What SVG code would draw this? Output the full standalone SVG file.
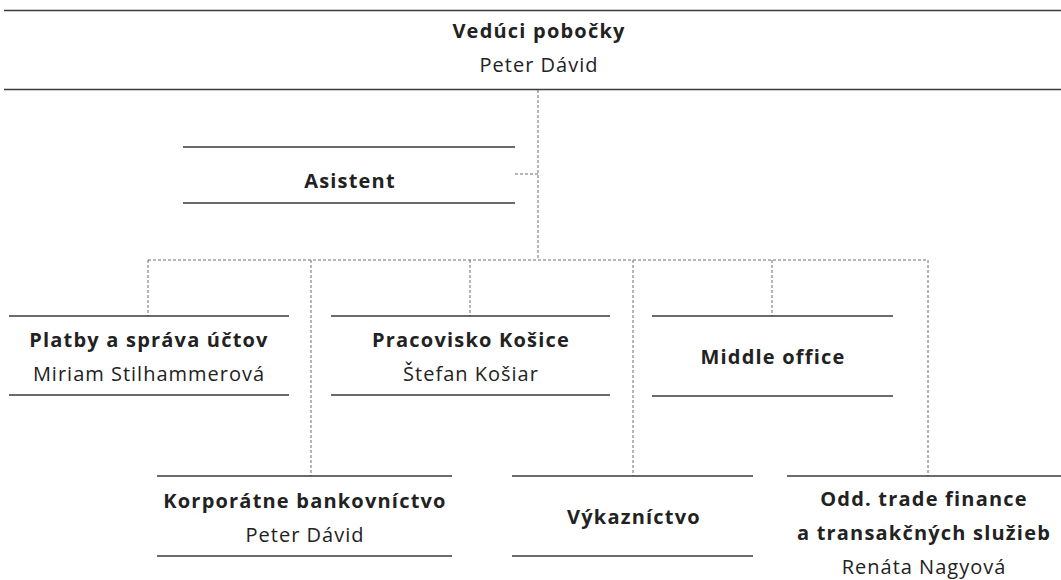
<svg xmlns="http://www.w3.org/2000/svg" width="1061" height="580" viewBox="0 0 1061 580">
<style>
.bg{fill:#ffffff}
.rule{stroke:#3a3a3a;stroke-width:1.5;fill:none}
.conn{stroke:#6e6e6e;stroke-width:1;stroke-dasharray:3 2;fill:none}
text{font-family:"Open Sans","Noto Sans","Liberation Sans",sans-serif;font-size:20px;fill:#222222;text-anchor:middle;letter-spacing:1px}
.b{font-weight:bold;letter-spacing:1.2px}
</style>
<rect class="bg" x="0" y="0" width="1061" height="580"/>
<g id="connectors">
<path class="conn" d="M538,90 V260"/>
<path class="conn" d="M515,174 H538"/>
<path class="conn" d="M148,260 H928"/>
<path class="conn" d="M148,260 V316"/>
<path class="conn" d="M311,260 V476"/>
<path class="conn" d="M470,260 V316"/>
<path class="conn" d="M633,260 V476"/>
<path class="conn" d="M772,260 V316"/>
<path class="conn" d="M928,260 V476"/>
</g>
<g id="veduci">
<line class="rule" x1="4" y1="10.5" x2="1061" y2="10.5"/>
<line class="rule" x1="4" y1="89.5" x2="1061" y2="89.5"/>
<text class="b" x="539" y="38">Vedúci pobočky</text>
<text x="539" y="72">Peter Dávid</text>
</g>
<g id="asistent">
<line class="rule" x1="183" y1="147" x2="515" y2="147"/>
<line class="rule" x1="183" y1="203" x2="515" y2="203"/>
<text class="b" x="350" y="188">Asistent</text>
</g>
<g id="platby">
<line class="rule" x1="9" y1="316" x2="289" y2="316"/>
<line class="rule" x1="9" y1="395" x2="289" y2="395"/>
<text class="b" x="149" y="347">Platby a správa účtov</text>
<text x="149" y="381">Miriam Stilhammerová</text>
</g>
<g id="pracovisko">
<line class="rule" x1="331" y1="316" x2="610" y2="316"/>
<line class="rule" x1="331" y1="395" x2="610" y2="395"/>
<text class="b" x="471" y="347">Pracovisko Košice</text>
<text x="471" y="381">Štefan Košiar</text>
</g>
<g id="middle">
<line class="rule" x1="652" y1="316" x2="893" y2="316"/>
<line class="rule" x1="652" y1="396" x2="893" y2="396"/>
<text class="b" x="773" y="364">Middle office</text>
</g>
<g id="korporatne">
<line class="rule" x1="157" y1="476" x2="452" y2="476"/>
<line class="rule" x1="157" y1="556" x2="452" y2="556"/>
<text class="b" x="305" y="508">Korporátne bankovníctvo</text>
<text x="305" y="542">Peter Dávid</text>
</g>
<g id="vykaznictvo">
<line class="rule" x1="512" y1="476" x2="753" y2="476"/>
<line class="rule" x1="512" y1="556" x2="753" y2="556"/>
<text class="b" x="634" y="524">Výkazníctvo</text>
</g>
<g id="trade">
<line class="rule" x1="787" y1="476" x2="1061" y2="476"/>
<text class="b" x="924" y="506">Odd. trade finance</text>
<text class="b" x="924" y="540">a transakčných služieb</text>
<text x="924" y="574">Renáta Nagyová</text>
</g>
</svg>
